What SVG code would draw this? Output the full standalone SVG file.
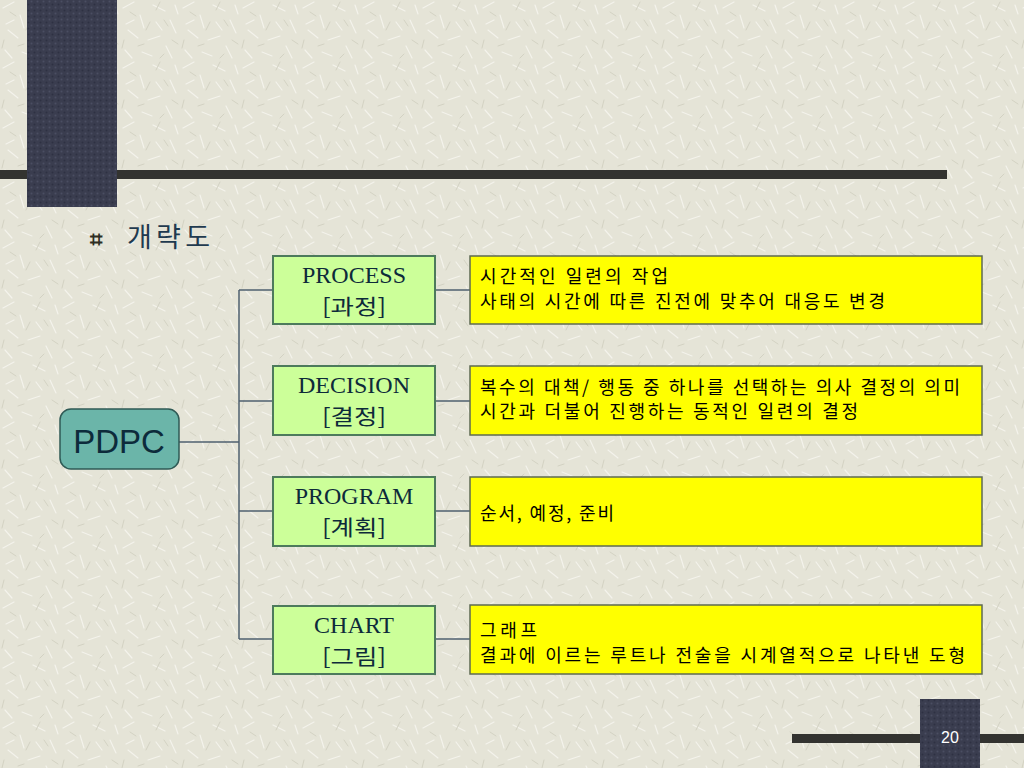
<svg xmlns="http://www.w3.org/2000/svg" width="1024" height="768" viewBox="0 0 1024 768">
<defs>
<pattern id="tex" width="60" height="60" patternUnits="userSpaceOnUse">
<rect width="60" height="60" fill="#E5E4D7"/>
<g stroke="#F4F3EC" stroke-width="1.2" stroke-linecap="round">
<path d="M3 8 L14 2 M20 15 L24 28 M33 5 L45 11 M50 20 L56 33 M8 30 L18 38 M28 40 L40 36 M46 46 L52 58 M5 50 L12 58 M36 22 L42 30 M14 20 L6 24 M55 5 L58 14 M22 52 L32 56"/>
</g>
<g stroke="#D3D2C3" stroke-width="1" stroke-linecap="round">
<path d="M10 12 L16 16 M40 2 L36 10 M26 30 L30 22 M52 40 L58 44 M4 40 L2 48 M18 46 L24 44 M44 54 L40 58 M48 26 L44 20"/>
</g>
</pattern>
<pattern id="dark" width="6" height="6" patternUnits="userSpaceOnUse">
<rect width="6" height="6" fill="#3A3D4F"/>
<circle cx="1.5" cy="1.5" r="1" fill="#4A4E62"/>
<circle cx="4.5" cy="4.5" r="1" fill="#2E3142"/>
</pattern>
<style>
.conn{stroke:#4F6070;stroke-width:1.5;fill:none}
.green{fill:#CCFF99;stroke:#4D7A5C;stroke-width:2}
.yellow{fill:#FFFF00;stroke:#5E6A52;stroke-width:1.5}
.gt{font-family:"Liberation Serif","Noto Sans CJK KR",serif;font-size:24px;fill:#0D2A3A;text-anchor:middle}
.gk{font-family:"Noto Sans CJK KR","Liberation Sans",sans-serif;font-size:21px;fill:#0D2A3A;text-anchor:middle}
.yt{font-family:"Noto Sans CJK KR","Liberation Sans",sans-serif;font-size:18px;fill:#000}
</style>
</defs>
<rect width="1024" height="768" fill="url(#tex)"/>
<g id="decor">
<rect x="0" y="170" width="947" height="9" fill="#333330"/>
<rect x="27" y="0" width="90" height="207" fill="url(#dark)"/>
<rect x="792" y="734" width="232" height="9" fill="#333330"/>
<rect x="920" y="699" width="60" height="69" fill="url(#dark)"/>
<text x="950" y="743" font-family="Liberation Sans, sans-serif" font-size="16" fill="#FFFFFF" text-anchor="middle">20</text>
</g>
<g id="title">
<text x="96" y="247" font-family="DejaVu Sans, sans-serif" font-size="22" font-weight="bold" fill="#2E2E24" text-anchor="middle">⌗</text>
<text x="127" y="247" font-family="Noto Sans CJK KR, sans-serif" font-size="27" fill="#1F3A4F" textLength="83" lengthAdjust="spacing">개략도</text>
</g>
<g id="connectors">
<path class="conn" d="M179 442 H239 M239 290 V639 M239 290 H273 M239 401 H273 M239 511 H273 M239 639 H273"/>
<path class="conn" d="M435 290 H470 M435 401 H470 M435 511 H470 M435 639 H470"/>
</g>
<g id="pdpc">
<rect x="60" y="409" width="119" height="60" rx="11" fill="#6BB5A9" stroke="#2F5A55" stroke-width="1.5"/>
<text x="119" y="453" font-family="Liberation Sans, sans-serif" font-size="33" fill="#0D2B3B" text-anchor="middle">PDPC</text>
</g>
<g id="process">
<rect class="green" x="273" y="256" width="162" height="68"/>
<text class="gt" x="354" y="283">PROCESS</text>
<text class="gk" x="354" y="314" textLength="64" lengthAdjust="spacingAndGlyphs">[과정]</text>
</g>
<g id="decision">
<rect class="green" x="273" y="366" width="162" height="69"/>
<text class="gt" x="354" y="393">DECISION</text>
<text class="gk" x="354" y="424" textLength="64" lengthAdjust="spacingAndGlyphs">[결정]</text>
</g>
<g id="program">
<rect class="green" x="273" y="477" width="162" height="69"/>
<text class="gt" x="354" y="504">PROGRAM</text>
<text class="gk" x="354" y="535" textLength="64" lengthAdjust="spacingAndGlyphs">[계획]</text>
</g>
<g id="chart">
<rect class="green" x="273" y="606" width="162" height="68"/>
<text class="gt" x="354" y="633">CHART</text>
<text class="gk" x="354" y="664" textLength="64" lengthAdjust="spacingAndGlyphs">[그림]</text>
</g>
<g id="process-desc">
<rect class="yellow" x="470" y="256" width="512" height="68"/>
<text class="yt" x="480" y="283" textLength="188" lengthAdjust="spacing">시간적인 일련의 작업</text>
<text class="yt" x="480" y="308" textLength="405" lengthAdjust="spacing">사태의 시간에 따른 진전에 맞추어 대응도 변경</text>
</g>
<g id="decision-desc">
<rect class="yellow" x="470" y="366" width="512" height="69"/>
<text class="yt" x="480" y="394" textLength="480" lengthAdjust="spacing">복수의 대책/ 행동 중 하나를 선택하는 의사 결정의 의미</text>
<text class="yt" x="480" y="418" textLength="378" lengthAdjust="spacing">시간과 더불어 진행하는 동적인 일련의 결정</text>
</g>
<g id="program-desc">
<rect class="yellow" x="470" y="477" width="512" height="69"/>
<text class="yt" x="480" y="520" textLength="134" lengthAdjust="spacing">순서, 예정, 준비</text>
</g>
<g id="chart-desc">
<rect class="yellow" x="470" y="605" width="512" height="69"/>
<text class="yt" x="480" y="637" textLength="57" lengthAdjust="spacing">그래프</text>
<text class="yt" x="480" y="662" textLength="485" lengthAdjust="spacing">결과에 이르는 루트나 전술을 시계열적으로 나타낸 도형</text>
</g>
</svg>
